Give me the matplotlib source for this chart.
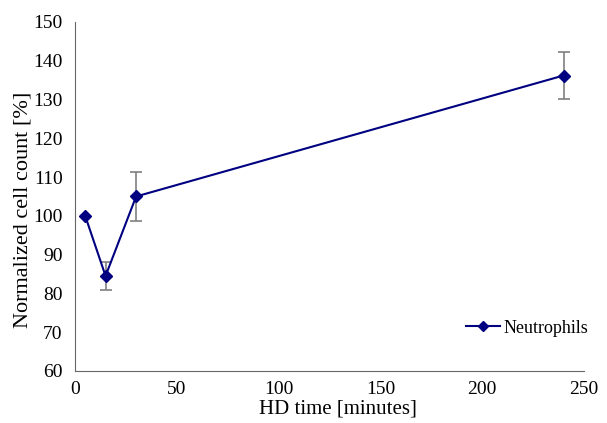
import numpy as np
import matplotlib.pyplot as plt

# Dados
hd_time = [5, 15, 30, 240]
cell_count = [100, 84.5, 105, 136.2]
cell_err = [0, 3.6, 6.2, 6.1]

plt.rcParams['font.family'] = ['Liberation Serif', 'DejaVu Serif']

fig = plt.figure(figsize=(6.07, 4.23), dpi=100)
ax = fig.add_axes([0.1236, 0.123, 0.8384, 0.825])

ax.errorbar(hd_time[1:], cell_count[1:], yerr=cell_err[1:], fmt='none',
            ecolor='#808080', elinewidth=1.2, capsize=4.5, capthick=1.2, zorder=1)
ax.plot(hd_time, cell_count, color='#000080', marker='D', markersize=6.5,
        lw=1.5, label='Neutrophils', zorder=2)

ax.set_xlim(0, 250)
ax.set_ylim(60, 150)
ax.set_xticks(np.arange(0, 251, 50))
ax.set_yticks(np.arange(60, 151, 10))
ax.tick_params(axis='x', length=0, labelsize=14, pad=7)
ax.tick_params(axis='y', length=0, labelsize=14, pad=9)
for s in ['top', 'right']:
    ax.spines[s].set_visible(False)
for s in ['left', 'bottom']:
    ax.spines[s].set_color('#666666')

ax.set_xlabel('HD time [minutes]', fontsize=15)
ax.xaxis.set_label_coords(0.517, -0.083)
ax.set_ylabel('Normalized cell count [%]', fontsize=16)
ax.yaxis.set_label_coords(-0.083, 0.461)
ax.legend(loc='center left', frameon=False, fontsize=13, markerscale=0.75,
          handlelength=1.9, handletextpad=0.2, borderpad=0, borderaxespad=0,
          bbox_to_anchor=(466 / 607, 1 - 328 / 423), bbox_transform=fig.transFigure)

fig.savefig('out.png', dpi=100)
